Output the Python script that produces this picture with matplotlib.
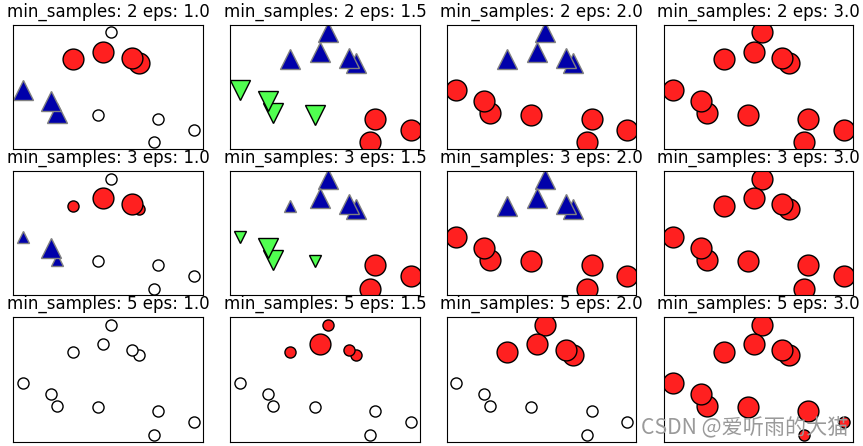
import numpy as np
import matplotlib.pyplot as plt
from matplotlib import colors as mcolors

# point coordinates (axes span 0..1)
x1 = np.array([0.518, 0.474, 0.316, 0.663, 0.626, 0.050,
               0.228, 0.198, 0.446, 0.763, 0.952, 0.740])
x2 = np.array([0.941, 0.783, 0.724, 0.695, 0.737, 0.474,
               0.289, 0.385, 0.279, 0.244, 0.158, 0.056])

min_samples_list = [2, 3, 5]
eps_list = [1.0, 1.5, 2.0, 3.0]

# cluster labels per setting (-1 = noise)
lab_eps1 = [-1, 0, 0, 0, 0, 1, 1, 1, -1, -1, -1, -1]
lab_eps15 = [1, 1, 1, 1, 1, 2, 2, 2, 2, 0, 0, 0]
lab_eps2 = [1, 1, 1, 1, 1, 0, 0, 0, 0, 0, 0, 0]
lab_eps3 = [0] * 12
lab_noise = [-1] * 12
lab_top = [0, 0, 0, 0, 0, -1, -1, -1, -1, -1, -1, -1]

labels = {
    (2, 1.0): lab_eps1, (2, 1.5): lab_eps15, (2, 2.0): lab_eps2, (2, 3.0): lab_eps3,
    (3, 1.0): lab_eps1, (3, 1.5): lab_eps15, (3, 2.0): lab_eps2, (3, 3.0): lab_eps3,
    (5, 1.0): lab_noise, (5, 1.5): lab_top, (5, 2.0): lab_top, (5, 3.0): lab_eps3,
}

# indices of core samples per setting
core = {
    (2, 1.0): [1, 2, 3, 4, 5, 6, 7],
    (2, 1.5): list(range(12)),
    (2, 2.0): list(range(12)),
    (2, 3.0): list(range(12)),
    (3, 1.0): [1, 4, 7],
    (3, 1.5): [0, 1, 3, 4, 6, 7, 9, 10, 11],
    (3, 2.0): list(range(12)),
    (3, 3.0): list(range(12)),
    (5, 1.0): [],
    (5, 1.5): [1],
    (5, 2.0): [0, 1, 2, 3, 4],
    (5, 3.0): [0, 1, 2, 3, 4, 5, 6, 7, 8, 9],
}

colors = ["#ff2020", "#0000aa", "#50ff50"]
markers = ["o", "^", "v", "D", "s"]


def discrete_scatter(ax, xa, ya, y, c, m, s):
    for i, yy in enumerate(np.unique(y)):
        mask = y == yy
        color = c[i]
        if np.mean(mcolors.to_rgb(color)) < .4:
            edge = "grey"
        else:
            edge = "black"
        ax.plot(xa[mask], ya[mask], m[i], markersize=s, c=color,
                markeredgecolor=edge)


fig, axes = plt.subplots(3, 4, figsize=(8.63, 4.46), dpi=100,
                         subplot_kw={"xticks": (), "yticks": ()})

for i, ms in enumerate(min_samples_list):
    for j, eps in enumerate(eps_list):
        ax = axes[i, j]
        cl = np.array(labels[(ms, eps)])
        if np.any(cl == -1):
            c = ["w"] + colors
            m = ["o"] + markers
        else:
            c = colors
            m = markers
        discrete_scatter(ax, x1, x2, cl, c, m, 8)
        inds = np.array(core[(ms, eps)], dtype=int)
        if len(inds):
            discrete_scatter(ax, x1[inds], x2[inds], cl[inds], colors, markers, 15)
        ax.set_xlim(0, 1)
        ax.set_ylim(0, 1)
        ax.set_title("min_samples: %d eps: %.1f" % (ms, eps), fontsize=12)

plt.subplots_adjust(left=0.0154, right=0.9888, top=0.944, bottom=0.0096,
                    wspace=0.144, hspace=0.177)

# watermark
fig.text(0.983, 0.018, "CSDN @爱听雨的大猫", ha="right", va="bottom",
         fontsize=15.2, color="#9a9a9a",
         family=["Noto Sans CJK SC", "DejaVu Sans"])

plt.savefig("out.png", dpi=100)
